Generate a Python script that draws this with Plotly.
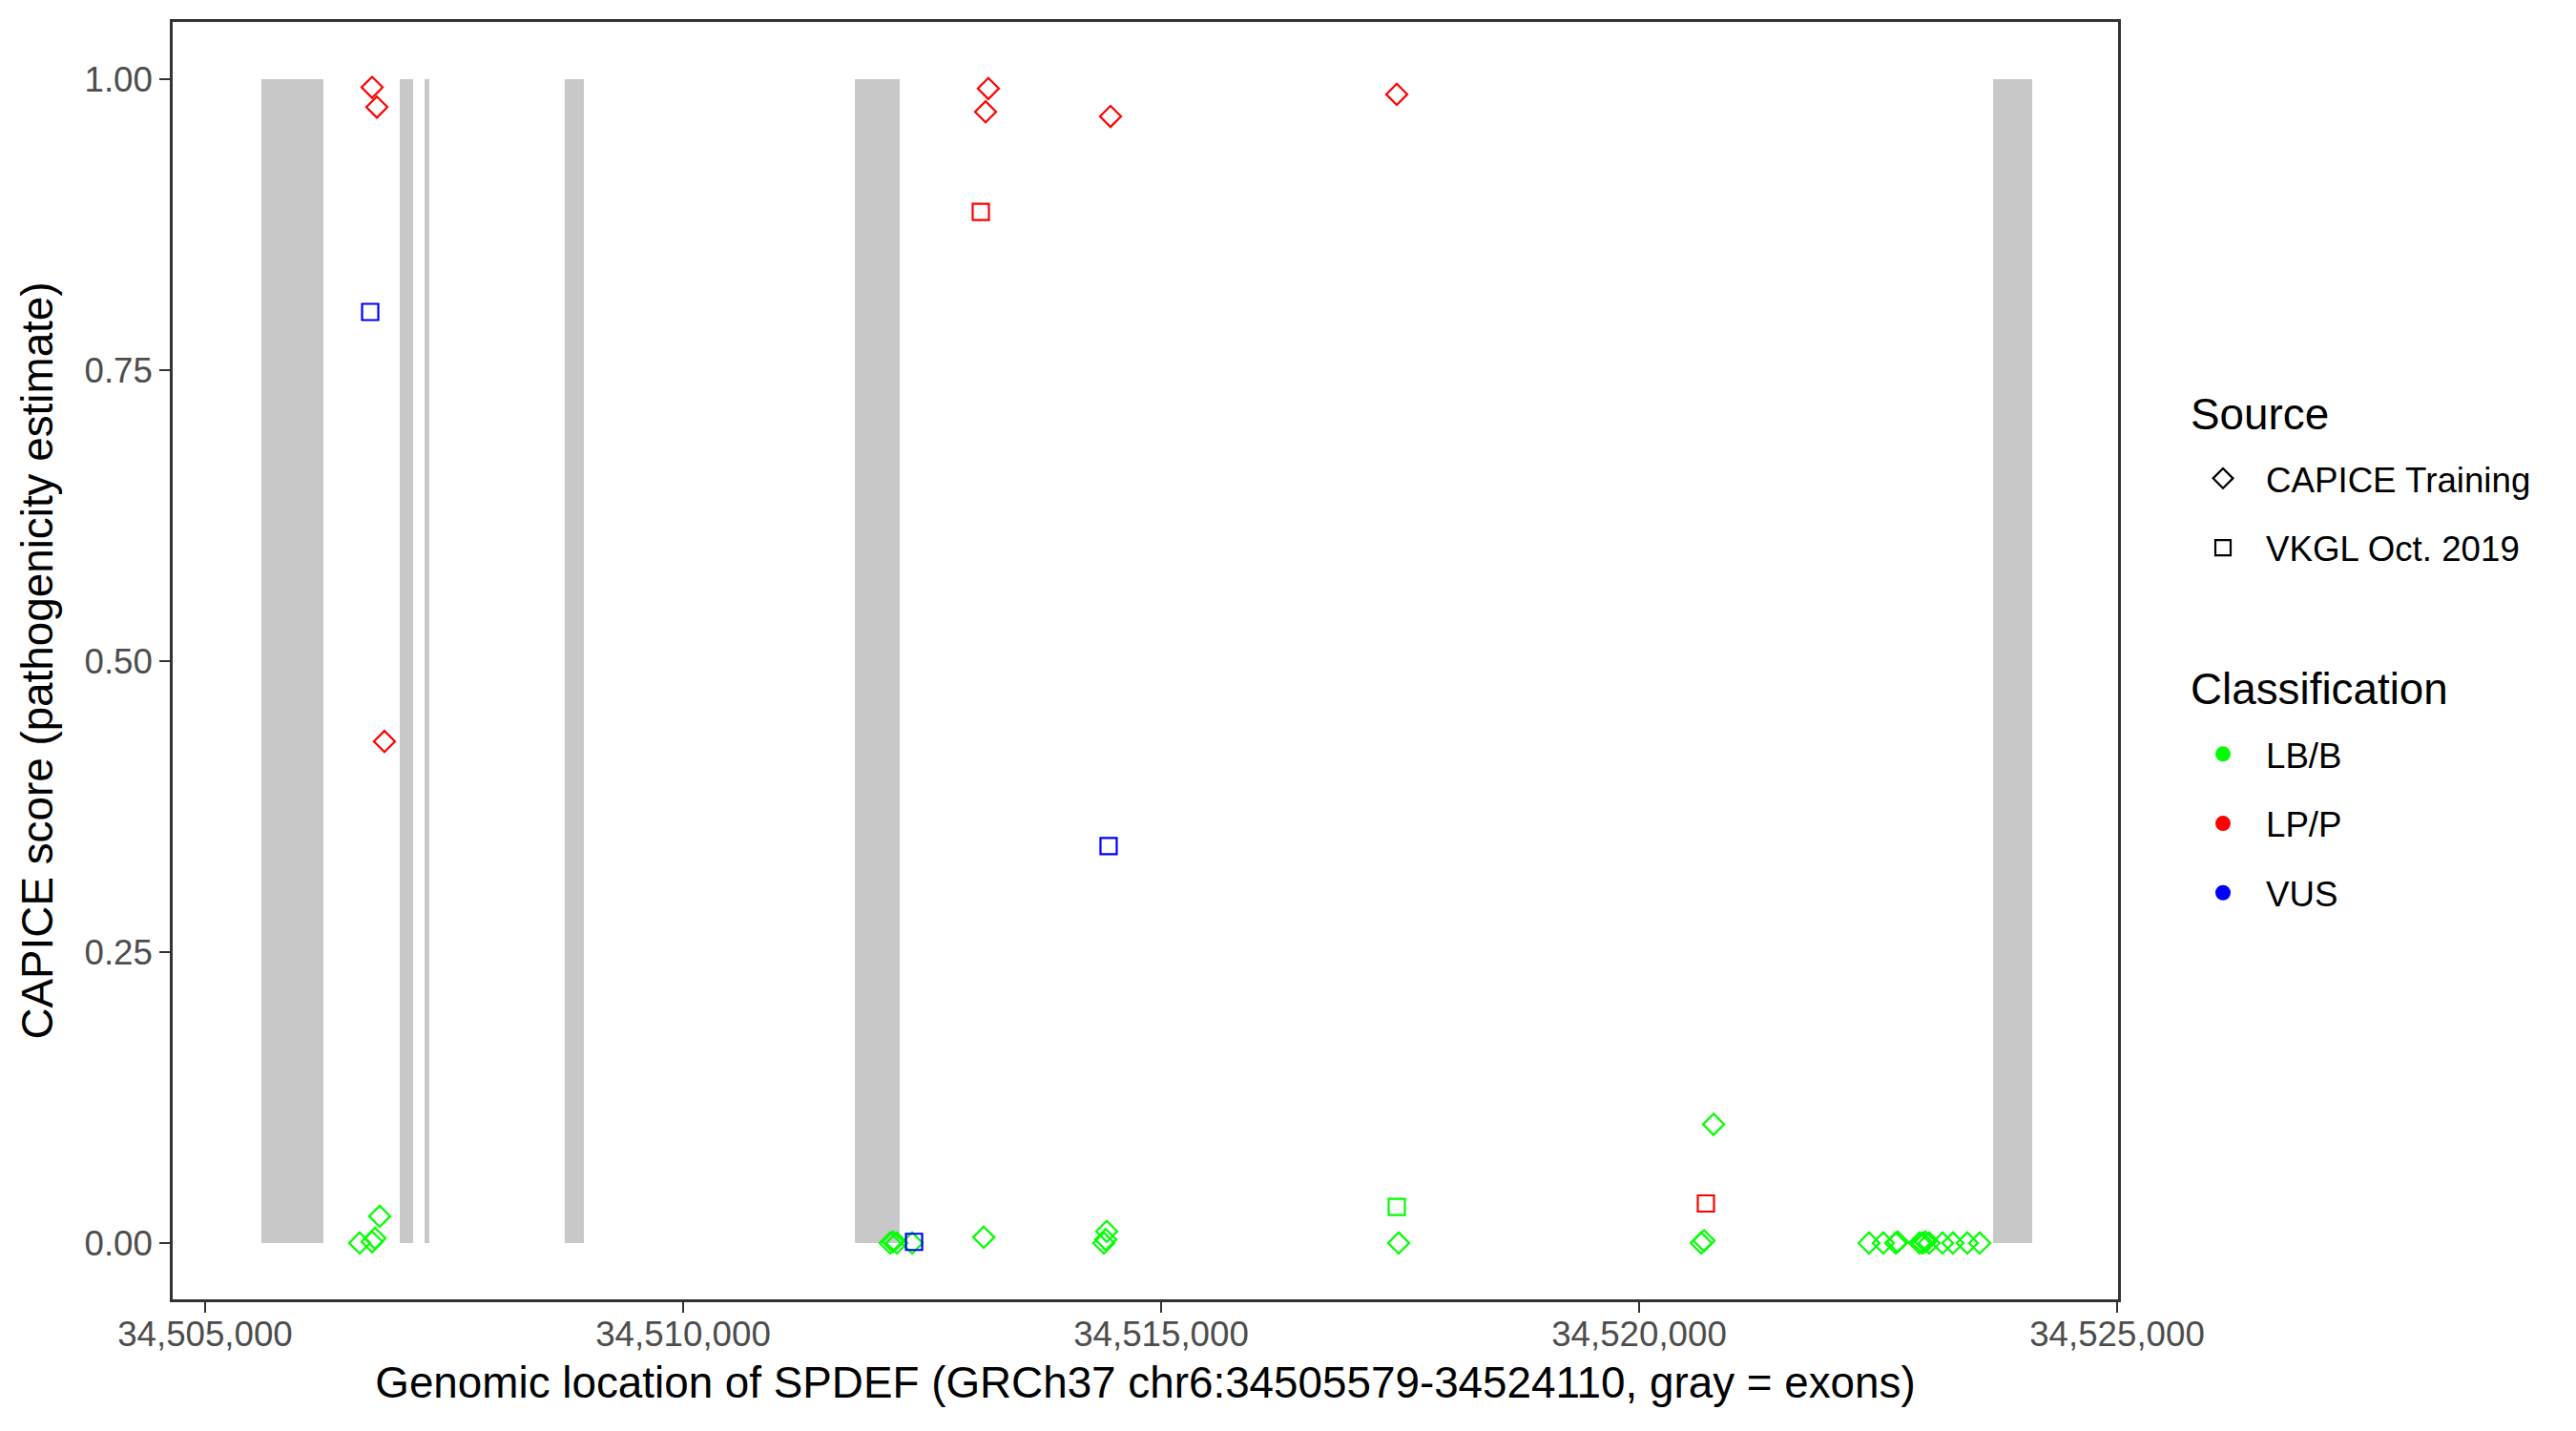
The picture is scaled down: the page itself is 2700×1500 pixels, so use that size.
import plotly.graph_objects as go

# ---- data ----
exon_start = [34505589, 34507036, 34507296, 34508762, 34511797, 34523703]
exon_end = [34506238, 34507176, 34507345, 34508962, 34512266, 34524112]

capice_pos = [34506747, 34506797, 34506876, 34506826, 34506617, 34506747, 34506777,
              34513193, 34513164, 34514471, 34517465,
              34512166, 34512196, 34512236, 34512396, 34513144, 34514431, 34514401, 34514421,
              34517485, 34520779, 34520649, 34520679,
              34522405, 34522555, 34522685, 34522705, 34522934, 34522964, 34522994,
              34523034, 34523174, 34523283, 34523433, 34523563]
capice_score = [0.993, 0.976, 0.431, 0.023, 0.000, 0.001, 0.004,
                0.992, 0.972, 0.968, 0.987,
                0.000, 0.001, 0.000, 0.000, 0.005, 0.010, 0.000, 0.003,
                0.000, 0.102, 0.000, 0.002,
                0.000, 0.000, 0.000, 0.001, 0.000, 0.000, 0.001,
                0.000, 0.000, 0.000, 0.000, 0.000]
capice_class = ["LP/P", "LP/P", "LP/P", "LB/B", "LB/B", "LB/B", "LB/B",
                "LP/P", "LP/P", "LP/P", "LP/P",
                "LB/B", "LB/B", "LB/B", "LB/B", "LB/B", "LB/B", "LB/B", "LB/B",
                "LB/B", "LB/B", "LB/B", "LB/B",
                "LB/B", "LB/B", "LB/B", "LB/B", "LB/B", "LB/B", "LB/B",
                "LB/B", "LB/B", "LB/B", "LB/B", "LB/B"]

vkgl_pos = [34506727, 34513114, 34514451, 34512416, 34517465, 34520699]
vkgl_score = [0.800, 0.886, 0.341, 0.001, 0.031, 0.034]
vkgl_class = ["VUS", "LP/P", "VUS", "VUS", "LB/B", "LP/P"]

classes = ["LB/B", "LP/P", "VUS"]
class_colors = {"LB/B": "#00FF00", "LP/P": "#FF0000", "VUS": "#0000FF"}
sources = ["CAPICE Training", "VKGL Oct. 2019"]
source_symbols = {"CAPICE Training": "diamond-open", "VKGL Oct. 2019": "square-open"}

x_ticks = [34505000, 34510000, 34515000, 34520000, 34525000]
y_ticks = [0, 0.25, 0.5, 0.75, 1.0]
y_ticklabels = ["0.00", "0.25", "0.50", "0.75", "1.00"]

FONT = "Liberation Sans, Arial, Helvetica, sans-serif"

fig = go.Figure()

# exons
for s, e in zip(exon_start, exon_end):
    fig.add_shape(type="rect", xref="x", yref="y", x0=s, x1=e, y0=0, y1=1,
                  fillcolor="#C8C8C8", line=dict(width=0), layer="below")

# data points
for src, pos, score, cls in [("CAPICE Training", capice_pos, capice_score, capice_class),
                             ("VKGL Oct. 2019", vkgl_pos, vkgl_score, vkgl_class)]:
    for c in classes:
        xs = [p for p, k in zip(pos, cls) if k == c]
        ys = [v for v, k in zip(score, cls) if k == c]
        if not xs:
            continue
        fig.add_trace(go.Scatter(
            x=xs, y=ys, mode="markers", showlegend=False,
            marker=dict(symbol=source_symbols[src], size=17, color=class_colors[c],
                        line=dict(width=2.2, color=class_colors[c])),
            hovertemplate=f"{src} / {c}<br>%{{x}}<br>%{{y:.3f}}<extra></extra>"))

# legend keys
for i, src in enumerate(sources):
    fig.add_trace(go.Scatter(
        x=[None], y=[None], mode="markers", name=src, legend="legend",
        legendgroup="s" + str(i),
        marker=dict(symbol=source_symbols[src], size=16, color="black",
                    line=dict(width=2.2, color="black"))))
for i, c in enumerate(classes):
    fig.add_trace(go.Scatter(
        x=[None], y=[None], mode="markers", name=c, legend="legend2",
        legendgroup="c" + str(i),
        marker=dict(symbol="circle", size=20, color=class_colors[c])))

# page body has an 8px margin; work in page coordinates and shift
OFF = 8
W, H = 2700 - OFF, 1500 - OFF
L, R, T, B = 181 - OFF, 2220 - OFF, 23 - OFF, 1362 - OFF


def cx(px):
    return (px - OFF) / W


def cy(py):
    return 1 - (py - OFF) / H


legend_common = dict(
    xref="container", yref="container", xanchor="left", yanchor="top",
    font=dict(family=FONT, size=36.7, color="black"),
    bgcolor="rgba(0,0,0,0)", borderwidth=0, tracegroupgap=22,
    itemwidth=80, traceorder="grouped",
)

fig.update_layout(
    width=W, height=H,
    margin=dict(l=L, r=W - R, t=T, b=H - B, autoexpand=False),
    paper_bgcolor="white", plot_bgcolor="white",
    font=dict(family=FONT, size=36.7, color="black"),
    showlegend=True,
    legend=dict(x=cx(2285), y=cy(471), **legend_common),
    legend2=dict(x=cx(2285), y=cy(760), **legend_common),
    annotations=[
        dict(text="Source", xref="paper", yref="paper", x=(2294 - OFF - L) / (R - L),
             y=1 - (434 - OFF - T) / (B - T) + 0, xanchor="left", yanchor="middle",
             showarrow=False, font=dict(family=FONT, size=45.8, color="black")),
        dict(text="Classification", xref="paper", yref="paper", x=(2294 - OFF - L) / (R - L),
             y=1 - (723 - OFF - T) / (B - T), xanchor="left", yanchor="middle",
             showarrow=False, font=dict(family=FONT, size=45.8, color="black")),
    ],
    xaxis=dict(
        range=[34504661, 34525010], tickvals=x_ticks, tickformat=",d",
        showgrid=False, zeroline=False, showline=True, mirror=True,
        linecolor="#333333", linewidth=2.5,
        ticks="outside", ticklen=11, tickwidth=2.2, tickcolor="#333333",
        ticklabelstandoff=-9,
        tickfont=dict(family=FONT, size=36.7, color="#4D4D4D"),
        title=dict(text="Genomic location of SPDEF (GRCh37 chr6:34505579-34524110, gray = exons)",
                   font=dict(family=FONT, size=45.8, color="black"), standoff=16),
    ),
    yaxis=dict(
        range=[-0.0484, 1.0492], tickvals=y_ticks, ticktext=y_ticklabels,
        showgrid=False, zeroline=False, showline=True, mirror=True,
        linecolor="#333333", linewidth=2.5,
        ticks="outside", ticklen=11, tickwidth=2.2, tickcolor="#333333",
        tickfont=dict(family=FONT, size=36.7, color="#4D4D4D"),
        title=dict(text="CAPICE score (pathogenicity estimate)",
                   font=dict(family=FONT, size=45.8, color="black"), standoff=19),
    ),
)

fig.write_html("out.html")
